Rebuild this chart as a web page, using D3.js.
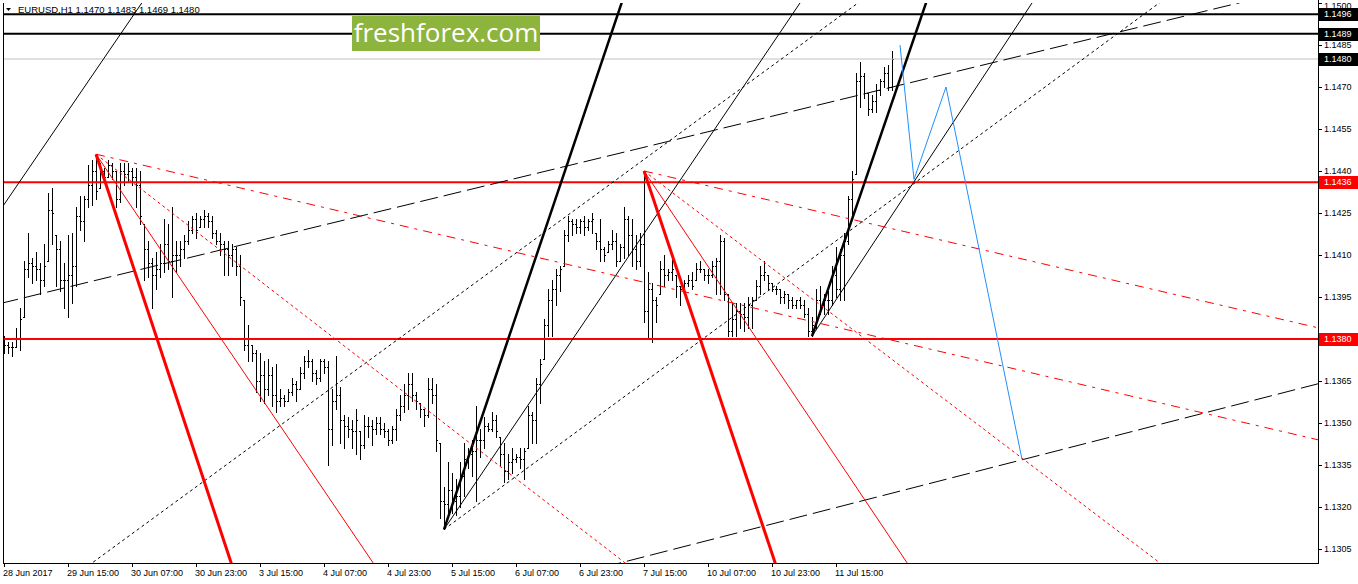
<!DOCTYPE html>
<html><head><meta charset="utf-8">
<script src="https://cdn.jsdelivr.net/npm/d3@7"></script>
<style>body{margin:0;background:#fff;}svg{display:block;}text{font-family:"Liberation Sans",Arial,sans-serif;}</style>
</head><body><svg id="c" width="1358" height="584"></svg>
<script>
// ---- DATA (EURUSD H1, bar index 0 = first visible bar) ----
const opens = [1.1380,1.1378,1.1377,1.1377,1.1380,1.1388,1.1405,1.1407,1.1406,1.1405,
1.1401,1.1408,1.1426,1.1417,1.1412,1.1401,1.1401,1.1403,1.1406,1.1424,
1.1422,1.1430,1.1435,1.1440,1.1434,1.1440,1.1438,1.1442,1.1440,1.1430,
1.1440,1.1439,1.1440,1.1438,1.1435,1.1421,1.1412,1.1407,1.1403,1.1405,
1.1407,1.1414,1.1408,1.1410,1.1410,1.1412,1.1415,1.1419,1.1423,1.1420,
1.1423,1.1424,1.1422,1.1418,1.1415,1.1414,1.1412,1.1410,1.1412,1.1406,
1.1394,1.1378,1.1378,1.1375,1.1365,1.1367,1.1362,1.1367,1.1360,1.1358,
1.1359,1.1358,1.1361,1.1364,1.1362,1.1368,1.1372,1.1372,1.1368,1.1366,
1.1372,1.1370,1.1348,1.1358,1.1360,1.1351,1.1349,1.1348,1.1347,1.1347,
1.1342,1.1349,1.1349,1.1348,1.1350,1.1348,1.1347,1.1344,1.1348,1.1353,
1.1356,1.1360,1.1364,1.1360,1.1357,1.1355,1.1353,1.1362,1.1360,1.1343,
1.1322,1.1321,1.1326,1.1322,1.1324,1.1331,1.1337,1.1339,1.1340,1.1344,
1.1344,1.1349,1.1348,1.1351,1.1345,1.1339,1.1333,1.1336,1.1337,1.1338,
1.1337,1.1341,1.1353,1.1351,1.1364,1.1373,1.1385,1.1394,1.1398,1.1403,
1.1406,1.1417,1.1422,1.1421,1.1420,1.1422,1.1420,1.1422,1.1418,1.1415,
1.1412,1.1411,1.1414,1.1415,1.1408,1.1413,1.1423,1.1417,1.1412,1.1408,
1.1414,1.1390,1.1398,1.1394,1.1396,1.1405,1.1403,1.1404,1.1403,1.1399,
1.1398,1.1400,1.1401,1.1401,1.1405,1.1405,1.1403,1.1403,1.1406,1.1408,
1.1415,1.1396,1.1383,1.1387,1.1390,1.1389,1.1388,1.1392,1.1394,1.1399,
1.1403,1.1403,1.1400,1.1398,1.1398,1.1395,1.1396,1.1394,1.1392,1.1394,
1.1392,1.1389,1.1383,1.1385,1.1394,1.1392,1.1394,1.1394,1.1403,1.1398,
1.1410,1.1415,1.1430,1.1439,1.1472,1.1474,1.1468,1.1462,1.1465,1.1469,
1.1472,1.1475,1.1470];
const highs = [1.1381,1.1379,1.1379,1.1384,1.1391,1.1408,1.1418,1.1409,1.1411,1.1407,
1.1414,1.1432,1.1434,1.1417,1.1415,1.1407,1.1417,1.1418,1.1427,1.1431,
1.1431,1.1442,1.1444,1.1446,1.1443,1.1441,1.1444,1.1443,1.1440,1.1443,
1.1443,1.1443,1.1441,1.1441,1.1440,1.1421,1.1415,1.1409,1.1411,1.1414,
1.1423,1.1421,1.1427,1.1415,1.1415,1.1417,1.1422,1.1424,1.1425,1.1424,
1.1426,1.1425,1.1424,1.1419,1.1418,1.1415,1.1415,1.1414,1.1413,1.1410,
1.1394,1.1385,1.1378,1.1376,1.1375,1.1372,1.1373,1.1370,1.1371,1.1362,
1.1360,1.1362,1.1366,1.1365,1.1370,1.1374,1.1376,1.1373,1.1369,1.1373,
1.1373,1.1372,1.1362,1.1374,1.1363,1.1353,1.1352,1.1351,1.1355,1.1347,
1.1353,1.1352,1.1351,1.1352,1.1352,1.1350,1.1348,1.1349,1.1355,1.1360,
1.1364,1.1368,1.1368,1.1361,1.1357,1.1355,1.1366,1.1366,1.1364,1.1343,
1.1327,1.1336,1.1332,1.1330,1.1336,1.1343,1.1341,1.1344,1.1356,1.1348,
1.1352,1.1350,1.1354,1.1353,1.1345,1.1343,1.1339,1.1341,1.1339,1.1341,
1.1341,1.1356,1.1354,1.1366,1.1373,1.1387,1.1398,1.1401,1.1405,1.1406,
1.1419,1.1424,1.1423,1.1423,1.1423,1.1424,1.1423,1.1425,1.1418,1.1423,
1.1413,1.1415,1.1419,1.1418,1.1414,1.1427,1.1424,1.1423,1.1417,1.1418,
1.1440,1.1404,1.1400,1.1395,1.1408,1.1410,1.1405,1.1410,1.1403,1.1399,
1.1401,1.1403,1.1404,1.1407,1.1408,1.1405,1.1405,1.1408,1.1409,1.1417,
1.1416,1.1396,1.1393,1.1393,1.1393,1.1393,1.1395,1.1395,1.1401,1.1406,
1.1408,1.1403,1.1400,1.1399,1.1398,1.1397,1.1396,1.1395,1.1394,1.1395,
1.1394,1.1391,1.1388,1.1398,1.1399,1.1396,1.1397,1.1406,1.1413,1.1412,
1.1418,1.1431,1.1440,1.1475,1.1479,1.1475,1.1468,1.1467,1.1471,1.1473,
1.1477,1.1478,1.1483];
const lows = [1.1375,1.1375,1.1374,1.1377,1.1376,1.1388,1.1402,1.1400,1.1401,1.1396,
1.1399,1.1408,1.1414,1.1399,1.1397,1.1391,1.1388,1.1393,1.1399,1.1419,
1.1415,1.1427,1.1428,1.1430,1.1434,1.1436,1.1438,1.1437,1.1427,1.1429,
1.1435,1.1436,1.1435,1.1427,1.1421,1.1401,1.1402,1.1391,1.1398,1.1402,
1.1404,1.1405,1.1395,1.1404,1.1406,1.1409,1.1414,1.1418,1.1416,1.1420,
1.1420,1.1420,1.1416,1.1414,1.1410,1.1403,1.1403,1.1406,1.1403,1.1392,
1.1376,1.1372,1.1372,1.1361,1.1358,1.1357,1.1360,1.1356,1.1354,1.1356,
1.1356,1.1358,1.1360,1.1358,1.1362,1.1366,1.1370,1.1365,1.1364,1.1365,
1.1368,1.1335,1.1342,1.1355,1.1343,1.1341,1.1345,1.1341,1.1339,1.1337,
1.1341,1.1345,1.1342,1.1346,1.1346,1.1345,1.1342,1.1343,1.1344,1.1351,
1.1354,1.1355,1.1358,1.1355,1.1352,1.1349,1.1352,1.1357,1.1340,1.1316,
1.1312,1.1317,1.1318,1.1317,1.1320,1.1324,1.1334,1.1331,1.1322,1.1338,
1.1341,1.1347,1.1347,1.1345,1.1335,1.1329,1.1330,1.1332,1.1336,1.1334,
1.1330,1.1341,1.1343,1.1343,1.1357,1.1373,1.1381,1.1381,1.1392,1.1397,
1.1406,1.1415,1.1417,1.1418,1.1418,1.1417,1.1419,1.1418,1.1412,1.1408,
1.1408,1.1411,1.1412,1.1406,1.1408,1.1409,1.1410,1.1406,1.1405,1.1406,
1.1386,1.1380,1.1379,1.1386,1.1396,1.1399,1.1401,1.1401,1.1395,1.1392,
1.1398,1.1399,1.1398,1.1401,1.1404,1.1401,1.1400,1.1402,1.1396,1.1396,
1.1394,1.1381,1.1381,1.1381,1.1384,1.1383,1.1384,1.1384,1.1394,1.1396,
1.1401,1.1398,1.1397,1.1396,1.1393,1.1393,1.1391,1.1391,1.1391,1.1391,
1.1388,1.1381,1.1381,1.1384,1.1389,1.1389,1.1389,1.1392,1.1395,1.1394,
1.1394,1.1414,1.1424,1.1439,1.1463,1.1466,1.1460,1.1461,1.1461,1.1467,
1.1470,1.1469,1.1469];
const closes = [1.1378,1.1377,1.1377,1.1380,1.1387,1.1405,1.1407,1.1406,1.1405,1.1401,
1.1406,1.1426,1.1425,1.1412,1.1401,1.1401,1.1403,1.1406,1.1424,1.1422,
1.1430,1.1435,1.1440,1.1433,1.1440,1.1438,1.1442,1.1440,1.1430,1.1440,
1.1439,1.1440,1.1438,1.1435,1.1424,1.1412,1.1407,1.1403,1.1405,1.1407,
1.1414,1.1408,1.1410,1.1410,1.1412,1.1415,1.1419,1.1423,1.1419,1.1423,
1.1424,1.1422,1.1418,1.1415,1.1414,1.1412,1.1410,1.1412,1.1406,1.1395,
1.1378,1.1380,1.1375,1.1365,1.1367,1.1362,1.1367,1.1360,1.1358,1.1359,
1.1358,1.1361,1.1364,1.1362,1.1368,1.1372,1.1372,1.1368,1.1366,1.1372,
1.1370,1.1348,1.1358,1.1360,1.1351,1.1349,1.1348,1.1347,1.1351,1.1342,
1.1349,1.1349,1.1348,1.1350,1.1348,1.1347,1.1344,1.1348,1.1353,1.1356,
1.1360,1.1364,1.1360,1.1358,1.1355,1.1353,1.1362,1.1360,1.1344,1.1322,
1.1321,1.1326,1.1322,1.1324,1.1331,1.1337,1.1339,1.1340,1.1344,1.1344,
1.1349,1.1348,1.1351,1.1347,1.1339,1.1333,1.1336,1.1337,1.1338,1.1337,
1.1340,1.1353,1.1351,1.1364,1.1371,1.1385,1.1394,1.1398,1.1403,1.1405,
1.1417,1.1422,1.1421,1.1420,1.1422,1.1420,1.1422,1.1423,1.1415,1.1412,
1.1410,1.1414,1.1415,1.1408,1.1413,1.1423,1.1417,1.1412,1.1408,1.1414,
1.1390,1.1398,1.1394,1.1392,1.1405,1.1403,1.1404,1.1405,1.1399,1.1398,
1.1400,1.1401,1.1399,1.1405,1.1405,1.1403,1.1403,1.1406,1.1408,1.1415,
1.1396,1.1383,1.1387,1.1390,1.1389,1.1388,1.1392,1.1394,1.1399,1.1403,
1.1404,1.1400,1.1398,1.1398,1.1395,1.1396,1.1394,1.1392,1.1394,1.1392,
1.1389,1.1383,1.1385,1.1394,1.1392,1.1394,1.1394,1.1403,1.1398,1.1410,
1.1415,1.1430,1.1437,1.1472,1.1474,1.1468,1.1462,1.1465,1.1469,1.1472,
1.1475,1.1470,1.1480];

const timeLabels = ["28 Jun 2017","29 Jun 15:00","30 Jun 07:00","30 Jun 23:00","3 Jul 15:00","4 Jul 07:00","4 Jul 23:00","5 Jul 15:00","6 Jul 07:00","6 Jul 23:00","7 Jul 15:00","10 Jul 07:00","10 Jul 23:00","11 Jul 15:00"];
const timeLabelBars = [0,16,32,48,64,80,96,112,128,144,160,176,192,208];
const priceTicks = [1.1500,1.1485,1.1470,1.1455,1.1440,1.1425,1.1410,1.1395,1.1380,1.1365,1.1350,1.1335,1.1320,1.1305];

// horizontal levels: [price, colour, width]
const hLevels = [[1.1496,"#000",2],[1.1489,"#000",2],[1.1480,"#c0c0c0",1],[1.1436,"#ff0000",2],[1.1380,"#ff0000",2]];
// trend lines: [bar1, price1, bar2, price2, colour, width, dash, ray]  ray: "r" = from point 1 to the right, "b" = both ways
const trendLines = [
 [0,1.1428, 33,1.1497, "#000",1,"", "b"],
 [110,1.1312, 154.4,1.1500, "#000",2.5,"", "r"],
 [110,1.1312, 199,1.1500, "#000",1,"", "r"],
 [110,1.1312, 288.8,1.1500, "#000",1,"3,3", "r"],
 [22,1.1300, 213.5,1.1500, "#000",1,"3,3", "b"],
 [202,1.1381, 257,1.1500, "#000",1,"", "r"],
 [202,1.1381, 230.5,1.1500, "#000",2.5,"", "r"],
 [0,1.1393, 300,1.1497, "#000",1,"18,6", "b"],
 [154,1.1300, 328.5,1.1364, "#000",1,"18,6", "b"],
 [23,1.1446, 56.8,1.1300, "#ff0000",3,"", "r"],
 [23,1.1446, 92.3,1.1300, "#ff0000",1,"", "r"],
 [23,1.1446, 155.3,1.1300, "#ff0000",1,"3,3", "r"],
 [23,1.1446, 328.5,1.1344, "#ff0000",1,"9,6,3,6", "r"],
 [160,1.1440, 328.5,1.1384, "#ff0000",1,"9,6,3,6", "r"],
 [160,1.1440, 192.8,1.1300, "#ff0000",3,"", "r"],
 [160,1.1440, 225.8,1.1300, "#ff0000",1,"", "r"],
 [160,1.1440, 289,1.1300, "#ff0000",1,"3,3", "r"]
];
// projected path (blue zigzag): bar index, price
const pathBars = [224, 227.5, 235.5, 254.5];
const pathPrices = [1.1485, 1.1437, 1.1470, 1.1337];

// ---- DRAWING ----
const W=1358,H=584,L=3,R=1318,T=3,B=563;
const svg=d3.select("#c");
const x=d3.scaleLinear().domain([0,1]).range([4,8]);
const y=d3.scaleLinear().domain([1.1300,1.1500]).range([B,T]);
svg.append("rect").attr("width",W).attr("height",H).attr("fill","#fff");
svg.append("defs").append("clipPath").attr("id","plot").append("rect")
  .attr("x",L).attr("y",T).attr("width",R-L).attr("height",B-T);
const g=svg.append("g").attr("clip-path","url(#plot)");

// bars
const bars=g.append("g").attr("fill","#000").attr("shape-rendering","crispEdges");
opens.forEach((o,i)=>{
  const X=Math.round(x(i));
  const yh=Math.round(y(highs[i])), yl=Math.round(y(lows[i]));
  bars.append("rect").attr("x",X).attr("y",yh).attr("width",1).attr("height",Math.max(1,yl-yh+1));
  bars.append("rect").attr("x",X-1).attr("y",Math.round(y(o))).attr("width",1).attr("height",1);
  bars.append("rect").attr("x",X+1).attr("y",Math.round(y(closes[i]))).attr("width",1).attr("height",1);
});

// horizontal levels
hLevels.forEach(([p,c,w])=>{
  g.append("line").attr("x1",L).attr("x2",R).attr("y1",y(p)).attr("y2",y(p))
   .attr("stroke",c).attr("stroke-width",w);
});

// trend lines
trendLines.forEach(([b1,p1,b2,p2,c,w,d,ray])=>{
  const s=(p2-p1)/(b2-b1);
  const bs = ray==="b" ? -100 : b1, be = 500;
  g.append("line").attr("x1",x(bs)).attr("y1",y(p1+s*(bs-b1)))
   .attr("x2",x(be)).attr("y2",y(p1+s*(be-b1)))
   .attr("stroke",c).attr("stroke-width",w).attr("stroke-dasharray",d||null);
});

// blue projection
g.append("path").attr("d",d3.line()(pathBars.map((b,i)=>[x(b),y(pathPrices[i])])))
  .attr("fill","none").attr("stroke","#1e90ff").attr("stroke-width",1);

// frame
const fr=svg.append("g").attr("stroke","#000").attr("shape-rendering","crispEdges").attr("fill","none");
fr.append("line").attr("x1",L+0.5).attr("x2",L+0.5).attr("y1",T).attr("y2",B);
fr.append("line").attr("x1",R+0.5).attr("x2",R+0.5).attr("y1",0).attr("y2",B+1);
fr.append("line").attr("x1",L).attr("x2",R+1).attr("y1",B+0.5).attr("y2",B+0.5);

// price axis
const ya=svg.append("g");
priceTicks.forEach(p=>{
  const yy=Math.round(y(p))+0.5;
  ya.append("line").attr("x1",R).attr("x2",R+4).attr("y1",yy).attr("y2",yy).attr("stroke","#000").attr("shape-rendering","crispEdges");
  ya.append("text").attr("x",1324).attr("y",Math.max(y(p)+3.2,8.5)).attr("font-size",9).attr("fill","#000").text(p.toFixed(4));
});
// level labels
hLevels.forEach(([p,c])=>{
  const bg = c==="#ff0000" ? "#ff0000" : "#000";
  const yy=Math.round(y(p));
  ya.append("rect").attr("x",R+1).attr("y",yy-6).attr("width",W-R-1).attr("height",13).attr("fill",bg);
  ya.append("text").attr("x",1324).attr("y",y(p)+3.2).attr("font-size",9).attr("fill","#fff").text(p.toFixed(4));
});

// time axis
const xa=svg.append("g");
timeLabelBars.forEach((b,k)=>{
  const X=Math.round(x(b))+0.5;
  xa.append("line").attr("x1",X).attr("x2",X).attr("y1",B).attr("y2",B+4).attr("stroke","#000").attr("shape-rendering","crispEdges");
  xa.append("text").attr("x",X-1.5).attr("y",575.5).attr("font-size",9).attr("fill","#000").text(timeLabels[k]);
});

// title
svg.append("path").attr("d","M6,8 L11,8 L8.5,11 Z").attr("fill","#000");
svg.append("text").attr("x",18).attr("y",12.5).attr("font-size",9.5).attr("fill","#000")
  .text("EURUSD,H1  1.1470 1.1483 1.1469 1.1480");

// watermark
svg.append("rect").attr("x",352).attr("y",16).attr("width",188).attr("height",35).attr("fill","#8db43c");
svg.append("text").attr("x",446).attr("y",42).attr("text-anchor","middle").attr("font-size",26)
  .attr("fill","#fff").style("font-family","'Open Sans',sans-serif").text("freshforex.com");
</script></body></html>
